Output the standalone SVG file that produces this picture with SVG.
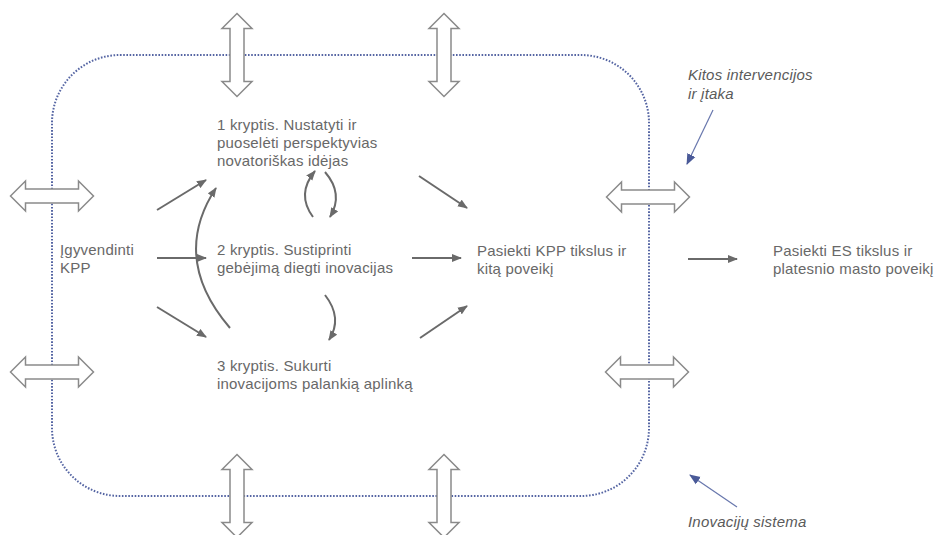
<svg xmlns="http://www.w3.org/2000/svg" width="936" height="535" viewBox="0 0 936 535">
<defs>
<style>
.t{font-family:"Liberation Sans",Arial,sans-serif;font-size:15px;letter-spacing:0.2px;fill:#686868;}
.i{font-family:"Liberation Sans",Arial,sans-serif;font-size:15px;letter-spacing:0.2px;font-style:italic;fill:#5a5a5a;}
.c{fill:none;stroke:#6a6a6a;stroke-width:2;}
.b{fill:none;stroke:#6877ad;stroke-width:1.2;}
.da{fill:#ffffff;stroke:#8a8a8a;stroke-width:1.5;stroke-linejoin:miter;}
.sys{fill:none;stroke:#5565a3;stroke-width:2;stroke-dasharray:1.6 1.6;}
</style>
<marker id="ag" markerUnits="userSpaceOnUse" markerWidth="11" markerHeight="9" refX="9" refY="4.5" orient="auto">
<path d="M0,0.5 L10,4.5 L0,8.5 z" fill="#6a6a6a"/>
</marker>
<marker id="ab" markerUnits="userSpaceOnUse" markerWidth="12" markerHeight="10" refX="10" refY="5" orient="auto">
<path d="M0,0.5 L11,5 L0,9.5 z" fill="#4a5a98"/>
</marker>
<path id="dh" d="M-41.5,0 L-26.5,-15 L-26.5,-7 L26.5,-7 L26.5,-15 L41.5,0 L26.5,15 L26.5,7 L-26.5,7 L-26.5,15 z"/>
</defs>

<g id="system">
<rect class="sys" x="52" y="55" width="597" height="441" rx="68" ry="68"/>
</g>

<g id="exchange-arrows">
<use href="#dh" class="da" transform="translate(237,55) rotate(90)"/>
<use href="#dh" class="da" transform="translate(444,55) rotate(90)"/>
<use href="#dh" class="da" transform="translate(237,496) rotate(90)"/>
<use href="#dh" class="da" transform="translate(444,496) rotate(90)"/>
<use href="#dh" class="da" transform="translate(52,196)"/>
<use href="#dh" class="da" transform="translate(52,372)"/>
<use href="#dh" class="da" transform="translate(648,197)"/>
<use href="#dh" class="da" transform="translate(647,372)"/>
</g>

<g id="connectors">
<line class="c" x1="157" y1="210" x2="206" y2="180" marker-end="url(#ag)"/>
<line class="c" x1="157" y1="258" x2="206" y2="258" marker-end="url(#ag)"/>
<line class="c" x1="157" y1="307" x2="206" y2="337" marker-end="url(#ag)"/>
<path class="c" d="M230,328 Q170,258 216,188" marker-end="url(#ag)"/>
<path class="c" d="M313,217 Q296,194 315,171" marker-end="url(#ag)"/>
<path class="c" d="M325,172 Q344,194 330,217" marker-end="url(#ag)"/>
<path class="c" d="M325,295 Q343,318 329,340" marker-end="url(#ag)"/>
<line class="c" x1="419" y1="176" x2="467" y2="208" marker-end="url(#ag)"/>
<line class="c" x1="412" y1="258" x2="461" y2="258" marker-end="url(#ag)"/>
<line class="c" x1="420" y1="338" x2="467" y2="306" marker-end="url(#ag)"/>
<line class="c" x1="688" y1="259" x2="737" y2="259" marker-end="url(#ag)"/>
<line class="b" x1="713" y1="110" x2="687" y2="164" marker-end="url(#ab)"/>
<line class="b" x1="737" y1="507" x2="690" y2="475" marker-end="url(#ab)"/>
</g>

<g id="node-implement">
<text class="t" x="60" y="255">Įgyvendinti</text>
<text class="t" x="60" y="273">KPP</text>
</g>

<g id="node-k1">
<text class="t" x="217" y="130">1 kryptis. Nustatyti ir</text>
<text class="t" x="217" y="148">puoselėti perspektyvias</text>
<text class="t" x="217" y="166">novatoriškas idėjas</text>
</g>

<g id="node-k2">
<text class="t" x="217" y="255">2 kryptis. Sustiprinti</text>
<text class="t" x="217" y="273">gebėjimą diegti inovacijas</text>
</g>

<g id="node-k3">
<text class="t" x="217" y="371">3 kryptis. Sukurti</text>
<text class="t" x="217" y="389">inovacijoms palankią aplinką</text>
</g>

<g id="node-kpp-goals">
<text class="t" x="477" y="256">Pasiekti KPP tikslus ir</text>
<text class="t" x="477" y="274">kitą poveikį</text>
</g>

<g id="node-es-goals">
<text class="t" x="773" y="256">Pasiekti ES tikslus ir</text>
<text class="t" x="773" y="274">platesnio masto poveikį</text>
</g>

<g id="label-other">
<text class="i" x="688" y="80">Kitos intervencijos</text>
<text class="i" x="688" y="99">ir įtaka</text>
</g>

<g id="label-system">
<text class="i" x="688" y="527">Inovacijų sistema</text>
</g>
</svg>
